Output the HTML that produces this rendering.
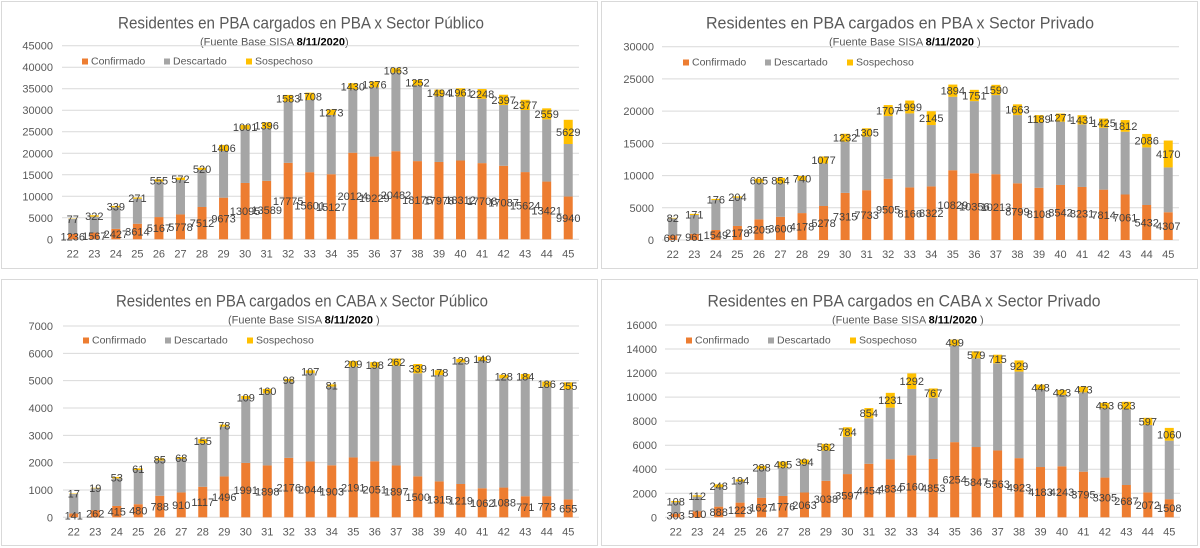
<!DOCTYPE html>
<html><head><meta charset="utf-8">
<style>
html,body{margin:0;padding:0;background:#fff;}
svg{display:block;font-family:"Liberation Sans",sans-serif;}
</style></head>
<body>
<svg id="root" width="1200" height="548" viewBox="0 0 1200 548" xmlns="http://www.w3.org/2000/svg"></svg>
<script>
const categories = [22,23,24,25,26,27,28,29,30,31,32,33,34,35,36,37,38,39,40,41,42,43,44,45];

// Chart 1: PBA en PBA x Sector Público
const c1Confirmado = [1236,1567,2427,3614,5167,5778,7512,9673,13095,13589,17775,15601,15127,20124,19229,20482,18175,17978,18312,17708,17087,15624,13421,9940];
const c1Descartado = [3490,3700,5000,5840,8230,8000,8600,10850,12460,12200,14200,16770,13760,14730,16090,18240,17600,15320,14830,14980,14120,14430,14460,12210];
const c1Sospechoso = [77,322,339,271,555,572,520,1406,1001,1396,1583,1708,1273,1430,1376,1063,1252,1494,1961,2248,2397,2377,2559,5629];
const c1Ticks = [0,5000,10000,15000,20000,25000,30000,35000,40000,45000];

// Chart 2: PBA en PBA x Sector Privado
const c2Confirmado = [697,961,1549,2178,3205,3600,4178,5278,7315,7733,9505,8166,8322,10829,10356,10213,8799,8108,8542,8231,7814,7061,5432,4307];
const c2Descartado = [2660,2920,4650,4390,5690,5190,5020,6610,7940,8300,9730,11480,9520,11400,11200,12280,10590,10090,9810,9710,9610,9740,8940,6960];
const c2Sospechoso = [82,171,176,204,605,854,740,1077,1232,1305,1707,1999,2145,1894,1751,1590,1663,1189,1271,1431,1425,1812,2086,4170];
const c2Ticks = [0,5000,10000,15000,20000,25000,30000];

// Chart 3: PBA en CABA x Sector Público
const c3Confirmado = [141,262,415,480,788,910,1117,1496,1991,1898,2176,2044,1903,2191,2051,1897,1500,1315,1219,1062,1088,771,773,655];
const c3Descartado = [713,800,1010,1250,1290,1225,1590,1820,2340,2640,2790,3230,2880,3320,3430,3650,3770,3890,4450,4660,4000,4290,4010,4030];
const c3Sospechoso = [17,19,53,61,85,68,155,78,109,160,98,107,81,209,198,262,339,178,129,149,128,184,186,255];
const c3Ticks = [0,1000,2000,3000,4000,5000,6000,7000];

// Chart 4: PBA en CABA x Sector Privado
const c4Confirmado = [303,510,888,1223,1627,1776,2063,3038,3597,4454,4834,5160,4853,6254,5847,5563,4923,4183,4243,3795,3305,2687,2072,1508];
const c4Descartado = [945,1210,1610,1740,2370,2360,2350,2510,3110,3780,4290,5520,5100,8030,7380,7250,7200,6410,5930,6600,5760,6300,5610,4870];
const c4Sospechoso = [108,112,248,194,288,495,394,562,784,854,1231,1292,767,499,579,715,929,448,423,473,453,623,597,1060];
const c4Ticks = [0,2000,4000,6000,8000,10000,12000,14000,16000];

const NS = "http://www.w3.org/2000/svg";
const root = document.getElementById('root');
function mk(tag, attrs, parent, text){
  const e = document.createElementNS(NS, tag);
  for (const k in attrs) e.setAttribute(k, attrs[k]);
  if (text !== undefined) e.textContent = text;
  parent.appendChild(e);
  return e;
}

function drawChart(cfg){
  const g = mk('g', {}, root);
  
  
  const panel = mk('rect', {x:cfg.px, y:cfg.py, width:cfg.pw, height:cfg.ph, fill:'#fff', stroke:'#d9d9d9', 'stroke-width':1}, g);
  
  
  const title = mk('text', {x:cfg.tx, y:cfg.py+27, 'font-size':17, fill:'#595959', 'text-anchor':'middle', textLength:cfg.tl, lengthAdjust:'spacingAndGlyphs'}, g, cfg.title);
  
  
  const sub = mk('text', {x:cfg.sx, y:cfg.py+44, 'font-size':11, fill:'#595959', 'xml:space':'preserve'}, g);
  
  
  mk('tspan', {}, sub, '(Fuente  Base SISA    ');
  mk('tspan', {'font-weight':'bold', fill:'#000'}, sub, '8/11/2020');
  mk('tspan', {}, sub, cfg.subEnd);

  const x0 = cfg.x0, x1 = cfg.x1, y0 = cfg.y0, yTop = cfg.yTop;
  const max = cfg.ticks[cfg.ticks.length-1];
  const yS = v => y0 - v / max * (y0 - yTop);
  const step = (x1 - x0) / categories.length;
  const xC = i => x0 + step * (i + 0.5);

  cfg.ticks.forEach(t => {
    const gl = mk('line', {x1:x0, x2:x1, y1:yS(t), y2:yS(t), stroke:'#d9d9d9', 'stroke-width':1}, g);
    
    
    const tl = mk('text', {x:cfg.labX, y:yS(t)+4, 'font-size':11, fill:'#595959', 'text-anchor':'end'}, g, String(t));
    
    
  });

  const ly = cfg.py + cfg.legDy;
  const leg = [['Confirmado','#ED7D31',0],['Descartado','#A5A5A5',82],['Sospechoso','#FFC000',164]];
  leg.forEach(l => {
    const le = mk('g', {}, g);
    
    
    mk('rect', {x:cfg.legX + l[2], y:ly-6, width:6, height:6, fill:l[1]}, le);
    mk('text', {x:cfg.legX + l[2] + 9, y:ly, 'font-size':10.5, fill:'#595959'}, le, l[0]);
  });

  const bw = 9;
  categories.forEach((c, i) => {
    const cx = xC(i);
    const a = cfg.conf[i], b = cfg.desc[i], s = cfg.sosp[i];
    const r1 = mk('rect', {x:cx-bw/2, y:yS(a), width:bw, height:y0-yS(a), fill:'#ED7D31'}, g);
    
    
    const r2 = mk('rect', {x:cx-bw/2, y:yS(a+b), width:bw, height:yS(a)-yS(a+b), fill:'#A5A5A5'}, g);
    
    
    const r3 = mk('rect', {x:cx-bw/2, y:yS(a+b+s), width:bw, height:yS(a+b)-yS(a+b+s), fill:'#FFC000'}, g);
    
    
    const l1 = mk('text', {x:cx, y:(y0+yS(a))/2+4, 'font-size':11, fill:'#404040', 'text-anchor':'middle'}, g, String(a));
    
    
    const l3 = mk('text', {x:cx, y:(yS(a+b)+yS(a+b+s))/2+4, 'font-size':11, fill:'#404040', 'text-anchor':'middle'}, g, String(s));
    
    
    const xl = mk('text', {x:cx, y:y0+18, 'font-size':11, fill:'#595959', 'text-anchor':'middle'}, g, String(c));
    
    
  });
}

drawChart({name:'chart-pba-publico', px:1.5, py:1.5, pw:596, ph:267, tx:301, tl:366, sx:200, subEnd:')',
  title:'Residentes en  PBA cargados en PBA x Sector Público',
  x0:62, x1:579, y0:239.3, yTop:45.7, labX:53, legX:82, legDy:63,
  conf:c1Confirmado, desc:c1Descartado, sosp:c1Sospechoso, ticks:c1Ticks});
drawChart({name:'chart-pba-privado', px:601.5, py:1.5, pw:596, ph:267, tx:900, tl:388, sx:829, subEnd:' )',
  title:'Residentes en  PBA cargados en PBA x Sector Privado',
  x0:662, x1:1179, y0:240, yTop:46.7, labX:654, legX:683, legDy:64,
  conf:c2Confirmado, desc:c2Descartado, sosp:c2Sospechoso, ticks:c2Ticks});
drawChart({name:'chart-caba-publico', px:1.5, py:279.5, pw:596, ph:266, tx:302, tl:372, sx:228, subEnd:'   )',
  title:'Residentes en  PBA cargados en CABA x Sector Público',
  x0:63, x1:579, y0:517.3, yTop:326, labX:53, legX:83, legDy:64,
  conf:c3Confirmado, desc:c3Descartado, sosp:c3Sospechoso, ticks:c3Ticks});
drawChart({name:'chart-caba-privado', px:601.5, py:279.5, pw:596, ph:266, tx:904, tl:393, sx:832, subEnd:'   )',
  title:'Residentes en  PBA cargados en CABA x Sector Privado',
  x0:665, x1:1180, y0:517.3, yTop:325, labX:657, legX:686, legDy:64,
  conf:c4Confirmado, desc:c4Descartado, sosp:c4Sospechoso, ticks:c4Ticks});
</script>
</body></html>
